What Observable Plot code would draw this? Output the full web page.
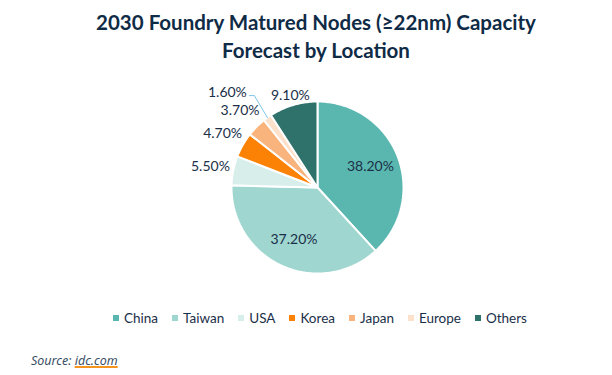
<!DOCTYPE html>
<html><head><meta charset="utf-8">
<script src="https://cdn.jsdelivr.net/npm/d3@7"></script>
<script src="https://cdn.jsdelivr.net/npm/@observablehq/plot@0.6"></script>
<style>
body{margin:0;background:#fff;width:612px;height:375px;overflow:hidden;font-family:Lato,"Open Sans",sans-serif;}
#title{padding-top:8px;text-align:center;font-weight:700;font-size:20.5px;line-height:28px;color:#0f2b46;padding-left:20px;}
#legend{display:flex;justify-content:center;gap:14px;font-size:13.5px;color:#1a2f48;margin-top:14px;padding-left:28px;}
#legend span.item{display:flex;align-items:center;}
#legend i{display:inline-block;width:6px;height:6px;margin-right:5px;}
#source{position:absolute;left:31px;top:352px;font-style:italic;font-size:12.5px;color:#3a4f66;font-family:"Noto Sans",sans-serif;}
#source u{text-decoration-color:#f7941d;text-decoration-thickness:1.5px;}
</style></head>
<body>
<div id="title">2030 Foundry Matured Nodes (≥22nm) Capacity<br>Forecast by Location</div>
<div id="chart"></div>
<div id="legend"></div>
<div id="source">Source: <u>idc.com</u></div>
<script>
const categories = ["China","Taiwan","USA","Korea","Japan","Europe","Others"];
const shares = [38.2, 37.2, 5.5, 4.7, 3.7, 1.6, 9.1];
const labels = ["38.20%","37.20%","5.50%","4.70%","3.70%","1.60%","9.10%"];
const colors = ["#5ab7af","#9fd6d0","#d8eeeb","#fb8204","#f9b47d","#fde1cb","#2f716b"];

const rows = categories.map((c,i)=>({cat:c, v:shares[i], label:labels[i], color:colors[i]}));
const arcs = d3.pie().sort(null).value(d=>d.v).startAngle(0).endAngle(2*Math.PI)(rows);

// polygon points for each wedge (angle measured clockwise from 12 o'clock)
const pt = (a,r)=>({x: r*Math.sin(a), y: r*Math.cos(a)});
const wedgeMarks = arcs.map(a=>{
  const pts=[{x:0,y:0}];
  const n = Math.max(4, Math.ceil((a.endAngle-a.startAngle)/(Math.PI/180)));
  for(let k=0;k<=n;k++){ pts.push(pt(a.startAngle+(a.endAngle-a.startAngle)*k/n,1)); }
  pts.push({x:0,y:0});
  return Plot.line(pts,{x:"x",y:"y",fill:a.data.color,stroke:"white",strokeWidth:2,strokeLinejoin:"miter"});
});

// label positions
const labelPts = arcs.map(a=>{
  const mid=(a.startAngle+a.endAngle)/2;
  const frac=a.data.v/100;
  let p;
  if(frac>0.3) p=pt(mid,0.66);
  else if(frac>0.08) p=pt(mid,1.12);
  else if(frac>0.03) p=pt(mid,1.27);
  else { const e=pt(mid,1.0); p={x:e.x-40/86,y:e.y+25/86,leader:e}; }
  return {...p,label:a.data.label,small:frac<=0.03,edge:p.leader};
});
const leaders=[];
labelPts.filter(d=>d.edge).forEach(d=>{
  leaders.push({x:d.x+22/86,y:d.y-3/86},{x:d.x+27/86,y:d.y-3/86},{x:d.edge.x,y:d.edge.y});
});

const plot = Plot.plot({
  width:612, height:232,
  marginLeft:231, marginRight:209, marginTop:37, marginBottom:23,
  x:{domain:[-1,1],axis:null}, y:{domain:[-1,1],axis:null},
  style:{fontFamily:"Lato, 'Open Sans', sans-serif",background:"white",overflow:"visible"},
  marks:[
    ...wedgeMarks,
    Plot.line(leaders,{x:"x",y:"y",stroke:"#7fc4e8",strokeWidth:1}),
    Plot.text(labelPts,{x:"x",y:"y",text:"label",fontSize:14,fill:"#1a2f48"})
  ]
});
document.getElementById("chart").appendChild(plot);

const lg=document.getElementById("legend");
categories.forEach((c,i)=>{
  const s=document.createElement("span");s.className="item";
  s.innerHTML=`<i style="background:${colors[i]}"></i>${c}`;
  lg.appendChild(s);
});
</script>
</body></html>
